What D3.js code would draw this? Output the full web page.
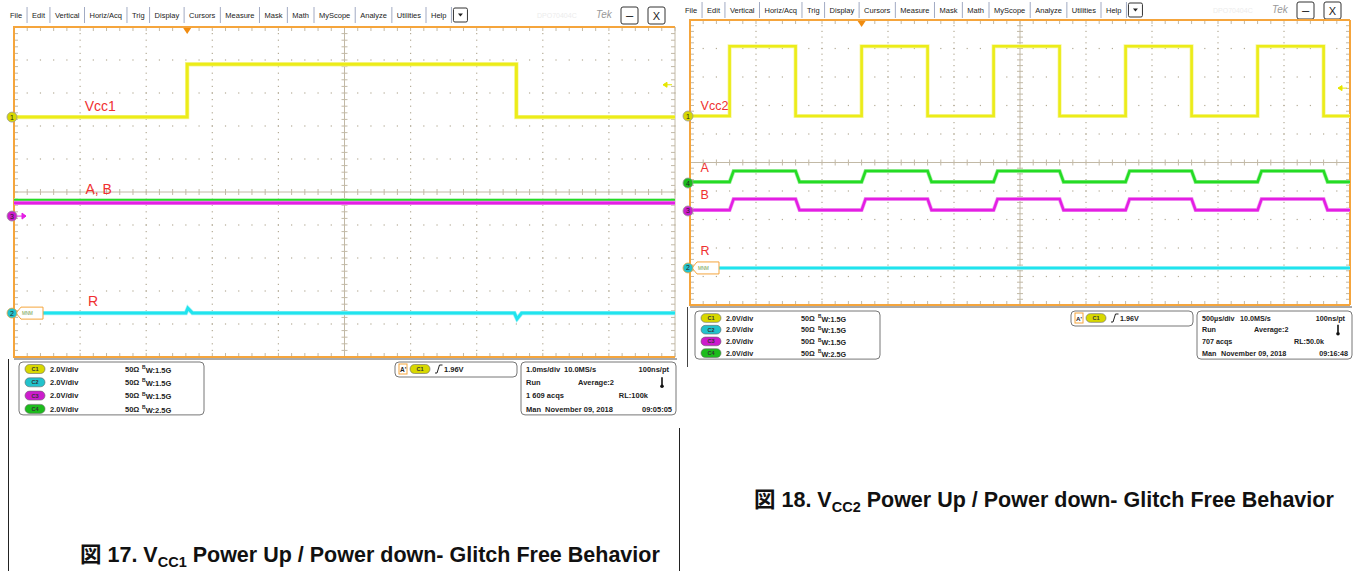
<!DOCTYPE html>
<html>
<head>
<meta charset="utf-8">
<title>VCC Power Up / Power down - Glitch Free Behavior</title>
<script src="https://d3js.org/d3.v7.min.js"></script>
<style>
  body { margin: 0; background: #fff; overflow: hidden; }
  text { font-family: "Liberation Sans", Arial, "Noto Sans CJK JP", sans-serif; }
</style>
</head>
<body>
<svg width="1353" height="571"></svg>
<script>
// ---- shared scope texts ----
const menuItems = ["File","Edit","Vertical","Horiz/Acq","Trig","Display","Cursors","Measure","Mask","Math","MyScope","Analyze","Utilities","Help"];
const chanNames = ["C1","C2","C3","C4"];
const chanScale = ["2.0V/div","2.0V/div","2.0V/div","2.0V/div"];
const chanImp = ["50Ω","50Ω","50Ω","50Ω"];
const chanBW = ["1.5G","1.5G","1.5G","2.5G"];
const trigLevel = 1.96;          // V on C1
const voltsPerDiv = 2.0;

// ---- Fig 17 : Vcc1, 1.0 ms/div, time in ms ----
const f17TimeDiv = 1.0;
const f17Trig = 2.62;
const f17Vcc1T = [0, 2.62, 7.60, 10];
const f17Vcc1V = [0, 3.2, 0, 0];
const f17AT = [0, 10];
const f17AV = [0.95, 0.95];
const f17BT = [0, 10];
const f17BV = [0.8, 0.8];
const f17RT = [0, 2.60, 2.63, 2.70, 7.57, 7.61, 7.68, 10];
const f17RV = [0, 0, 0.3, 0, 0, -0.35, 0, 0];
const f17Ground = {C1: 2.27, C2: -3.67, C3: -0.73, C4: -0.73};   // divisions from centre
const f17Status = [["1.0ms/div","10.0MS/s","100ns/pt"],["Run","Average:2"],["1 609 acqs","RL:100k"],["Man","November 09, 2018","09:05:05"]];

// ---- Fig 18 : Vcc2, 500 us/div, time in ms ----
const f18TimeDiv = 0.5;
const f18Trig = 1.30;
const f18Vcc2T = [0, 0.30, 0.80, 1.30, 1.80, 2.30, 2.80, 3.30, 3.80, 4.30, 4.80, 5.0];
const f18Vcc2V = [0, 4.9, 0, 4.9, 0, 4.9, 0, 4.9, 0, 4.9, 0, 0];
const f18AT = [0, 0.30, 0.33, 0.80, 0.83, 1.30, 1.33, 1.80, 1.83, 2.30, 2.33, 2.80, 2.83, 3.30, 3.33, 3.80, 3.83, 4.30, 4.33, 4.80, 4.83, 5.0];
const f18AV = [0.08, 0.08, 0.84, 0.84, 0.08, 0.08, 0.84, 0.84, 0.08, 0.08, 0.84, 0.84, 0.08, 0.08, 0.84, 0.84, 0.08, 0.08, 0.84, 0.84, 0.08, 0.08];
const f18BT = f18AT;
const f18BV = [0.06, 0.06, 0.84, 0.84, 0.06, 0.06, 0.84, 0.84, 0.06, 0.06, 0.84, 0.84, 0.06, 0.06, 0.84, 0.84, 0.06, 0.06, 0.84, 0.84, 0.06, 0.06];
const f18RT = [0, 5.0];
const f18RV = [0, 0];
const f18Ground = {C1: 1.63, C2: -3.70, C3: -1.70, C4: -0.72};
const f18Status = [["500µs/div","10.0MS/s","100ns/pt"],["Run","Average:2"],["707 acqs","RL:50.0k"],["Man","November 09, 2018","09:16:48"]];

const svg = d3.select("svg");
const traceCol = {C1: "#ecec18", C2: "#20e4ee", C3: "#e41ee4", C4: "#24dc24"};
const haloCol  = {C1: "#f6f6a0", C2: "#a8f2f6", C3: "#f2a8f2", C4: "#a8eea8"};
const pillCol  = {C1: "#d8d800", C2: "#22c2cc", C3: "#cc1ccc", C4: "#1cbc1c"};
const orange = "#f5a53c";

function menuBar(x0, cy, right) {
  const g = svg.append("g").attr("font-size", 7.5).attr("fill", "#222");
  const texts = menuItems.map(m => g.append("text").attr("y", cy + 2.6).text(m));
  const widths = texts.map(t => t.node().getComputedTextLength());
  const gap = (421 - d3.sum(widths.slice(0, -1))) / 13;
  let x = x0;
  texts.forEach((t, i) => {
    t.attr("x", x);
    if (i > 0) g.append("line").attr("x1", x - 5).attr("x2", x - 5).attr("y1", cy - 8).attr("y2", cy + 8)
      .attr("stroke", "#8a96b4").attr("stroke-width", 0.8);
    x += widths[i] + gap;
  });
  const hx = x - gap + 5;
  g.append("line").attr("x1", hx).attr("x2", hx).attr("y1", cy - 8).attr("y2", cy + 8).attr("stroke", "#8a96b4").attr("stroke-width", 0.8);
  g.append("rect").attr("x", hx + 2).attr("y", cy - 7).attr("width", 14).attr("height", 14).attr("rx", 1.5)
    .attr("fill", "#fff").attr("stroke", "#333");
  g.append("path").attr("d", `M${hx + 6.5},${cy - 1.5}h5l-2.5,3z`).attr("fill", "#222");
  // faint model name + logo
  g.append("text").attr("x", right - 135).attr("y", cy + 2.5).attr("fill", "#ececec").attr("font-size", 7).text("DPO70404C");
  g.append("text").attr("x", right - 76).attr("y", cy + 3).attr("fill", "#999").attr("font-size", 10)
    .attr("font-style", "italic").text("Tek");
  [["–", right - 51], ["X", right - 24]].forEach(([s, bx]) => {
    g.append("rect").attr("x", bx).attr("y", cy - 8).attr("width", 17).attr("height", 17).attr("rx", 2)
      .attr("fill", "#fff").attr("stroke", "#333").attr("stroke-width", 1);
    g.append("text").attr("x", bx + 8.5).attr("y", cy + 4.5).attr("text-anchor", "middle")
      .attr("font-size", s === "X" ? 11 : 13).attr("fill", "#222").text(s);
  });
}

function drawScope(p) {
  const g = svg.append("g");
  const x = d3.scaleLinear().domain([0, 10 * p.timeDiv]).range([p.left, p.left + p.w]);
  const y = d3.scaleLinear().domain([-5, 5]).range([p.top + p.h, p.top]);
  const majX = d3.range(0, 11).map(i => i * p.timeDiv);
  const minX = d3.range(0, 51).map(i => i * p.timeDiv / 5);
  const majY = d3.range(-5, 6);
  const minY = d3.range(0, 51).map(i => -5 + i / 5);
  const x0 = x(5 * p.timeDiv), y0 = y(0);

  // dotted graticule
  const dots = [];
  majX.slice(1, -1).forEach((t, i) => { if (i !== 4) minY.forEach(v => dots.push([x(t), y(v)])); });
  majY.slice(1, -1).forEach(v => { if (v !== 0) minX.forEach(t => dots.push([x(t), y(v)])); });
  g.append("g").selectAll("rect").data(dots).join("rect")
    .attr("x", d => d[0] - 0.6).attr("y", d => d[1] - 0.6).attr("width", 1.2).attr("height", 1.2).attr("fill", "#b4ab96");

  // centre cross with minor ticks
  const gc = g.append("g").attr("stroke", "#c2b9a6").attr("stroke-width", 1);
  gc.append("line").attr("x1", p.left).attr("x2", p.left + p.w).attr("y1", y0).attr("y2", y0);
  gc.append("line").attr("x1", x0).attr("x2", x0).attr("y1", p.top).attr("y2", p.top + p.h);
  gc.selectAll(".tx").data(minX).join("line").attr("x1", d => x(d)).attr("x2", d => x(d)).attr("y1", y0 - 3).attr("y2", y0 + 3);
  gc.selectAll(".ty").data(minY).join("line").attr("y1", d => y(d)).attr("y2", d => y(d)).attr("x1", x0 - 3).attr("x2", x0 + 3);
  // edge ticks
  gc.selectAll(".et").data(minX).join("line").attr("x1", d => x(d)).attr("x2", d => x(d)).attr("y1", p.top).attr("y2", p.top + 4);
  gc.selectAll(".eb").data(minX).join("line").attr("x1", d => x(d)).attr("x2", d => x(d)).attr("y1", p.top + p.h - 4).attr("y2", p.top + p.h);
  gc.selectAll(".el").data(minY).join("line").attr("y1", d => y(d)).attr("y2", d => y(d)).attr("x1", p.left).attr("x2", p.left + 4);
  gc.selectAll(".er").data(minY).join("line").attr("y1", d => y(d)).attr("y2", d => y(d)).attr("x1", p.left + p.w - 4).attr("x2", p.left + p.w);

  // border
  g.append("line").attr("x1", p.left + p.w).attr("x2", p.left + p.w).attr("y1", p.top).attr("y2", p.top + p.h)
    .attr("stroke", p.rightOrange ? orange : "#c2b9a6").attr("stroke-width", p.rightOrange ? 2 : 1);
  g.append("path").attr("d", `M${p.left + p.w},${p.top}H${p.left}V${p.top + p.h}H${p.left + p.w}`)
    .attr("fill", "none").attr("stroke", orange).attr("stroke-width", 2);

  // traces
  p.traces.forEach(tr => {
    const gnd = p.ground[tr.ch];
    const pts = tr.t.map((t, i) => [t, tr.v[i]]);
    const line = d3.line().x(d => x(d[0])).y(d => y(gnd + d[1] / voltsPerDiv)).curve(tr.curve || d3.curveLinear);
    g.append("path").attr("d", line(pts)).attr("fill", "none").attr("stroke", haloCol[tr.ch])
      .attr("stroke-width", p.lw + 1.4).attr("stroke-linejoin", "miter");
    g.append("path").attr("d", line(pts)).attr("fill", "none").attr("stroke", traceCol[tr.ch])
      .attr("stroke-width", p.lw).attr("stroke-linejoin", "miter");
  });

  // trigger position & level
  const tx = x(p.trig);
  g.append("path").attr("d", `M${tx - 4},${p.top + 1}h8l-4,6z`).attr("fill", "#f08c10");
  const ly = y(p.ground.C1 + trigLevel / voltsPerDiv);
  g.append("path").attr("d", `M${p.left + p.w - 12},${ly}h9M${p.left + p.w - 12},${ly}l4,-2.5v5z`)
    .attr("stroke", "#e6e600").attr("fill", "#e6e600").attr("stroke-width", 1);

  // ground markers
  p.markers.forEach(ch => {
    const cy = y(p.ground[ch]);
    const mx = p.left - 2;
    if (ch === "C2") {
      g.append("path").attr("d", `M${mx + 4},${cy}l5,-6h22v12h-22z`).attr("fill", "#fff").attr("stroke", orange).attr("stroke-width", 1);
      g.append("text").attr("x", mx + 10).attr("y", cy + 2).attr("font-size", 4.5).attr("fill", "#6a9a40").text("MNM");
    }
    if (ch === "C3" && p.arrow3) {
      g.append("path").attr("d", `M${mx + 4},${cy}h10M${mx + 14},${cy}l-4,-3v6z`).attr("stroke", traceCol.C3).attr("fill", traceCol.C3);
    }
    g.append("circle").attr("cx", mx).attr("cy", cy).attr("r", 5).attr("fill", pillCol[ch]).attr("stroke", ch === "C2" ? orange : "#999").attr("stroke-width", 0.8);
    g.append("text").attr("x", mx).attr("y", cy + 2.5).attr("text-anchor", "middle").attr("font-size", 7).attr("fill", "#222").text(ch.slice(1));
  });

  // annotations
  p.labels.forEach(l => {
    g.append("text").attr("x", x(l.t)).attr("y", y(l.d)).attr("font-size", p.labelSize).attr("fill", "#f03030").text(l.text);
  });
}

function pill(g, px, cy, ch, h) {
  g.append("rect").attr("x", px).attr("y", cy - h / 2).attr("width", 20).attr("height", h).attr("rx", h / 2)
    .attr("fill", pillCol[ch]).attr("stroke", "#666").attr("stroke-width", 0.6);
  g.append("text").attr("x", px + 10).attr("y", cy + 2).attr("text-anchor", "middle").attr("font-size", 5.5)
    .attr("font-weight", "bold").attr("fill", "#333").text(ch);
}

function infoPanel(p) {
  const g = svg.append("g").attr("font-size", p.fs).attr("font-weight", "bold").attr("fill", "#222");
  const ox = p.left, top = p.infoTop, rh = p.rowH;
  // separator line under the graticule
  g.append("line").attr("x1", p.left).attr("x2", p.left + p.w + 2).attr("y1", p.top + p.h + 2).attr("y2", p.top + p.h + 2).attr("stroke", "#555");
  const bh = rh * 3 + 13;
  const box = (bx, w, h) => g.append("rect").attr("x", bx).attr("y", top).attr("width", w).attr("height", h).attr("rx", 4)
    .attr("fill", "#fff").attr("stroke", "#777").attr("stroke-width", 1);

  box(ox + 5, 185, bh);
  chanNames.forEach((ch, i) => {
    const cy = top + 7 + i * rh;
    pill(g, ox + 11, cy, ch, p.fs + 1.5);
    g.append("text").attr("x", ox + 36).attr("y", cy + 2.6).text(chanScale[i]);
    g.append("text").attr("x", ox + 111).attr("y", cy + 2.6).text(chanImp[i]);
    const t = g.append("text").attr("x", ox + 128).attr("y", cy + 2.6);
    t.append("tspan").attr("font-size", p.fs - 2.5).attr("dy", -2.5).text("B");
    t.append("tspan").attr("dy", 3.5).text("W");
    t.append("tspan").text(":" + chanBW[i]);
  });

  // trigger box
  const tb = ox + 381, tcy = top + 7;
  box(tb, 122, 15);
  g.append("rect").attr("x", tb + 4).attr("y", tcy - 5).attr("width", 8).attr("height", 10).attr("fill", "#fff").attr("stroke", orange);
  g.append("text").attr("x", tb + 5).attr("y", tcy + 2.5).attr("font-size", p.fs - 1).text("A'");
  pill(g, tb + 15, tcy, "C1", p.fs + 1.5);
  g.append("path").attr("d", `M${tb + 40},${tcy + 4}h2l2.5,-8h3`).attr("fill", "none").attr("stroke", "#222").attr("stroke-width", 1);
  g.append("text").attr("x", tb + 49).attr("y", tcy + 2.6).text(trigLevel.toFixed(2) + "V");

  // timebase / acquisition box
  const sb = ox + 507;
  box(sb, 155, bh);
  const st = p.status;
  const row = i => top + 7 + i * rh + 2.6;
  g.append("text").attr("x", sb + 5).attr("y", row(0)).text(st[0][0]);
  g.append("text").attr("x", sb + 43).attr("y", row(0)).text(st[0][1]);
  g.append("text").attr("x", sb + 148).attr("y", row(0)).attr("text-anchor", "end").text(st[0][2]);
  g.append("text").attr("x", sb + 5).attr("y", row(1)).text(st[1][0]);
  g.append("text").attr("x", sb + 57).attr("y", row(1)).text(st[1][1]);
  const thx = sb + 141, thy = top + 7 + rh;
  g.append("line").attr("x1", thx).attr("x2", thx).attr("y1", thy - 5).attr("y2", thy + 3).attr("stroke", "#111").attr("stroke-width", 1.6);
  g.append("circle").attr("cx", thx).attr("cy", thy + 4).attr("r", 1.8).attr("fill", "#111");
  g.append("text").attr("x", sb + 5).attr("y", row(2)).text(st[2][0]);
  g.append("text").attr("x", sb + 127).attr("y", row(2)).attr("text-anchor", "end").text(st[2][1]);
  g.append("text").attr("x", sb + 5).attr("y", row(3)).text(st[3][0]);
  g.append("text").attr("x", sb + 24).attr("y", row(3)).text(st[3][1]);
  g.append("text").attr("x", sb + 151).attr("y", row(3)).attr("text-anchor", "end").text(st[3][2]);
}

function caption(x, yb, num, sub) {
  const t = svg.append("text").attr("x", x).attr("y", yb).attr("font-size", 21.5).attr("font-weight", "bold").attr("fill", "#111");
  t.append("tspan").text(`図 ${num}. V`);
  t.append("tspan").attr("font-size", 14.5).attr("dy", 4.5).text(sub);
  t.append("tspan").attr("dy", -4.5).text(" Power Up / Power down- Glitch Free Behavior");
}

// ---- Fig 17 ----
const p17 = {
  left: 14, top: 27, w: 661, h: 330, timeDiv: f17TimeDiv, trig: f17Trig, ground: f17Ground, lw: 3,
  rightOrange: false, arrow3: true, markers: ["C1", "C3", "C2"], labelSize: 14,
  traces: [
    {ch: "C1", t: f17Vcc1T, v: f17Vcc1V, curve: d3.curveStepAfter},
    {ch: "C2", t: f17RT, v: f17RV},
    {ch: "C4", t: f17AT, v: f17AV},
    {ch: "C3", t: f17BT, v: f17BV}
  ],
  labels: [{text: "Vcc1", t: 1.07, d: 2.45}, {text: "A, B", t: 1.08, d: -0.05}, {text: "R", t: 1.12, d: -3.45}],
  infoTop: 362, rowH: 13.3, fs: 7.5, status: f17Status
};
menuBar(10, 15, 672);
drawScope(p17);
infoPanel(p17);

// ---- Fig 18 ----
const p18 = {
  left: 690, top: 20, w: 660, h: 285, timeDiv: f18TimeDiv, trig: f18Trig, ground: f18Ground, lw: 2.6,
  rightOrange: true, arrow3: false, markers: ["C1", "C4", "C3", "C2"], labelSize: 12.5,
  traces: [
    {ch: "C1", t: f18Vcc2T, v: f18Vcc2V, curve: d3.curveStepAfter},
    {ch: "C2", t: f18RT, v: f18RV},
    {ch: "C4", t: f18AT, v: f18AV},
    {ch: "C3", t: f18BT, v: f18BV}
  ],
  labels: [{text: "Vcc2", t: 0.08, d: 1.85}, {text: "A", t: 0.08, d: -0.32}, {text: "B", t: 0.08, d: -1.28}, {text: "R", t: 0.08, d: -3.25}],
  infoTop: 311, rowH: 11.7, fs: 7.2, status: f18Status
};
menuBar(685, 10, 1348);
drawScope(p18);
infoPanel(p18);

// frame rules around the left figure
svg.append("line").attr("x1", 8.5).attr("x2", 8.5).attr("y1", 359).attr("y2", 571).attr("stroke", "#222");
svg.append("line").attr("x1", 679.5).attr("x2", 679.5).attr("y1", 428).attr("y2", 571).attr("stroke", "#222");
svg.append("line").attr("x1", 687.5).attr("x2", 687.5).attr("y1", 307).attr("y2", 367).attr("stroke", "#444");

caption(80, 562, 17, "CC1");
caption(754, 507, 18, "CC2");
</script>
</body>
</html>
